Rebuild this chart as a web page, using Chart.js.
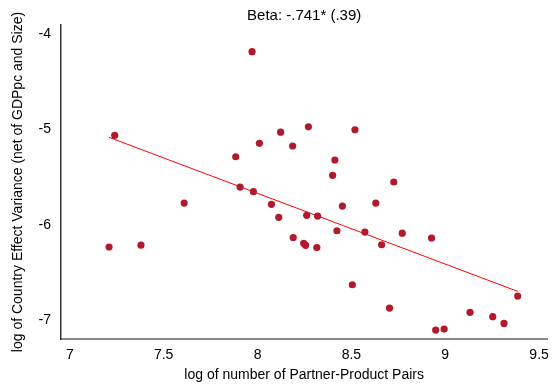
<!DOCTYPE html>
<html>
<head>
<meta charset="utf-8">
<script src="https://cdn.jsdelivr.net/npm/chart.js@4.4.1/dist/chart.umd.min.js"></script>
<style>
  html, body { margin: 0; padding: 0; background: #fff; }
  #wrap { width: 557px; height: 391px; }
</style>
</head>
<body>
<div id="wrap"><canvas id="chart" width="557" height="391"></canvas></div>
<script>
// log of number of partner-product pairs
const pairsX = [7.971, 7.239, 8.271, 8.123, 8.519, 8.010, 8.187, 7.884, 8.412, 8.400,
  8.726, 7.907, 7.978, 7.609, 8.074, 8.630, 8.452, 8.113, 8.262, 8.320,
  8.423, 8.572, 8.771, 8.190, 8.927, 7.209, 7.379, 8.246, 8.256, 8.316,
  8.661, 8.505, 8.703, 8.949, 8.994, 9.132, 9.253, 9.313, 9.386];
// log of country effect variance (net of GDPpc and size)
const varianceY = [-4.182, -5.061, -4.971, -5.028, -5.002, -5.145, -5.173, -5.286, -5.320, -5.481,
  -5.551, -5.604, -5.653, -5.772, -5.786, -5.772, -5.804, -5.922, -5.901, -5.909,
  -6.063, -6.077, -6.089, -6.134, -6.139, -6.234, -6.215, -6.195, -6.216, -6.239,
  -6.210, -6.630, -6.875, -7.106, -7.096, -6.920, -6.966, -7.036, -6.749];

// fitted line end points
const fitX = [7.209, 9.386];
const fitY = [-5.082, -6.700];

const xTicks = [7, 7.5, 8, 8.5, 9, 9.5];
const yTicks = [-7, -6, -5, -4];

const FONT = "'Liberation Sans', Arial, sans-serif";

const points = pairsX.map((x, i) => ({ x, y: varianceY[i] }));
const fitLine = fitX.map((x, i) => ({ x, y: fitY[i] }));

new Chart(document.getElementById('chart').getContext('2d'), {
  type: 'scatter',
  data: {
    datasets: [
      {
        data: fitLine,
        showLine: true,
        borderColor: '#ff0000',
        borderWidth: 1,
        pointRadius: 0,
        order: 2
      },
      {
        data: points,
        backgroundColor: '#b3192d',
        borderColor: '#b3192d',
        borderWidth: 0,
        pointRadius: 3.6,
        order: 1
      }
    ]
  },
  options: {
    responsive: false,
    animation: false,
    layout: { padding: { left: 0, right: 9, top: 0, bottom: 0 } },
    plugins: {
      legend: { display: false },
      tooltip: { enabled: false },
      title: {
        display: true,
        fullSize: false,
        text: 'Beta: -.741* (.39)',
        color: '#000',
        font: { family: FONT, size: 15, weight: 'normal' },
        padding: { top: 7, bottom: 0 }
      }
    },
    scales: {
      x: {
        type: 'linear',
        min: 6.953,
        max: 9.544,
        afterBuildTicks: s => { s.ticks = xTicks.map(v => ({ value: v })); },
        afterFit: s => { s.height = 52; },
        grid: { display: false, drawTicks: false },
        border: { display: true, color: '#8a8a8a', width: 2 },
        ticks: {
          color: '#000',
          padding: 8,
          font: { family: FONT, size: 14 },
          callback: v => String(v)
        },
        title: {
          display: true,
          text: 'log of number of Partner-Product Pairs',
          color: '#000',
          font: { family: FONT, size: 14 },
          padding: { top: 0, bottom: 7.5 }
        }
      },
      y: {
        type: 'linear',
        min: -7.2,
        max: -3.902,
        afterBuildTicks: s => { s.ticks = yTicks.map(v => ({ value: v })); },
        afterFit: s => { s.width = 61; },
        grid: { display: false, drawTicks: false },
        border: { display: true, color: '#333', width: 1.5 },
        ticks: {
          color: '#000',
          padding: 10,
          font: { family: FONT, size: 14 },
          callback: v => String(v)
        },
        title: {
          display: true,
          text: 'log of Country Effect Variance (net of GDPpc and Size)',
          color: '#000',
          font: { family: FONT, size: 14 },
          padding: { top: 10, bottom: 0 }
        }
      }
    }
  }
});
</script>
</body>
</html>
